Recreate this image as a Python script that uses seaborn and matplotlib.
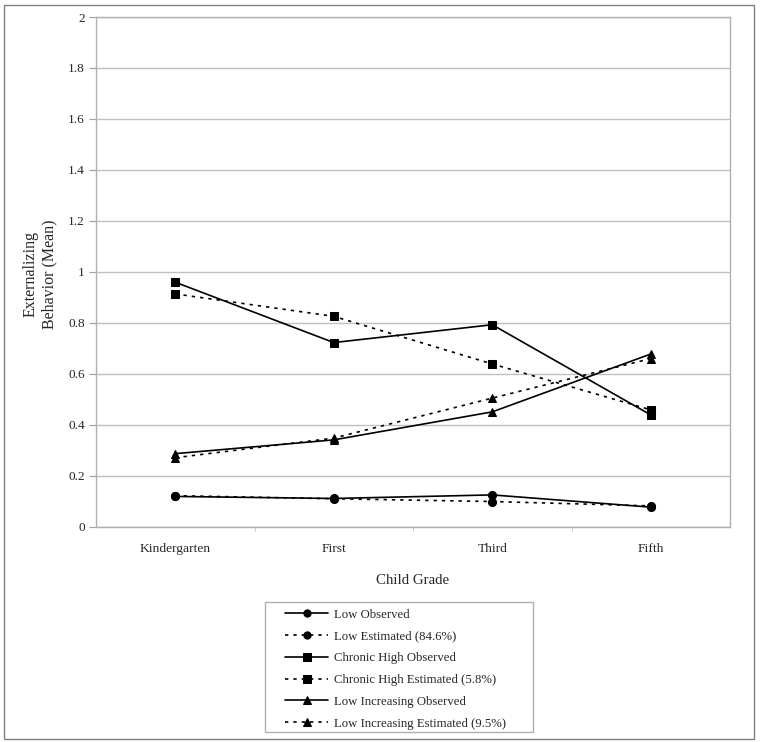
from matplotlib import pyplot as plt
from matplotlib.patches import Rectangle
import seaborn as sns
import pandas as pd

grades = ["Kindergarten", "First", "Third", "Fifth"]

low_obs = [0.118, 0.110, 0.124, 0.076]
low_est = [0.121, 0.109, 0.098, 0.081]
high_obs = [0.959, 0.722, 0.792, 0.438]
high_est = [0.913, 0.825, 0.638, 0.458]
incr_obs = [0.286, 0.340, 0.450, 0.677]
incr_est = [0.270, 0.347, 0.504, 0.659]

series_names = [
    "Low Observed",
    "Low Estimated (84.6%)",
    "Chronic High Observed",
    "Chronic High Estimated (5.8%)",
    "Low Increasing Observed",
    "Low Increasing Estimated (9.5%)",
]

sns.set_style("white")
plt.rcParams['font.family'] = ['Liberation Serif', 'DejaVu Serif']

W, H = 761, 742
fig = plt.figure(figsize=(W / 100, H / 100), dpi=100)
ax = fig.add_axes([96 / W, 1 - 526.5 / H, 634 / W, 509.5 / H])

all_series = [low_obs, low_est, high_obs, high_est, incr_obs, incr_est]
markers = ["o", "o", "s", "s", "^", "^"]
styles = ["-", (0, (2, 3)), "-", (0, (2, 3)), "-", (0, (2, 3))]

for vals, name, mk, ls in zip(all_series, series_names, markers, styles):
    df = pd.DataFrame({"pos": range(len(grades)), "value": vals})
    sns.lineplot(data=df, x="pos", y="value", ax=ax, color="black",
                 marker=mk, markersize=5.8, markeredgecolor="black",
                 linestyle=ls, linewidth=1.2, label=name)

ax.set_xlim(-0.5, 3.5)
ax.set_ylim(0, 2)
ax.set_xticks(range(len(grades)))
ax.set_xticklabels(grades, fontsize=9.7)
ax.set_xticks([0.5, 1.5, 2.5], minor=True)
ax.set_yticks([i * 0.2 for i in range(11)])
ax.set_yticklabels(["0", "0.2", "0.4", "0.6", "0.8", "1", "1.2", "1.4", "1.6", "1.8", "2"], fontsize=9.5)
ax.tick_params(axis="y", which="major", length=5, color="#a0a0a0", direction="out", left=True, pad=3)
ax.tick_params(axis="x", which="major", length=0, pad=12)
ax.tick_params(axis="x", which="minor", length=3, color="#c0c0c0", direction="out", bottom=True)

ax.yaxis.grid(True, color="#c0c0c0", linewidth=1)
ax.set_axisbelow(True)
for side in ["left", "right", "top", "bottom"]:
    ax.spines[side].set_visible(True)
    ax.spines[side].set_color("#b0b0b0")
    ax.spines[side].set_linewidth(1)

ax.set_xlabel("Child Grade", fontsize=10.7)
ax.xaxis.set_label_coords(0.5, -0.093)
ax.set_ylabel("Externalizing\nBehavior (Mean)", fontsize=11.5, linespacing=1.2)
ax.yaxis.set_label_coords(-0.061, 0.495)

handles, labels = ax.get_legend_handles_labels()
ax.get_legend().remove()
leg = fig.legend(handles, labels, loc="upper left",
                 bbox_to_anchor=(285 / W, 1 - 608.5 / H),
                 frameon=False, fontsize=9.2, handlelength=3.4, handletextpad=0.4,
                 labelspacing=0.77, borderpad=0, borderaxespad=0, markerscale=0.9)

# legend box and outer border
fig.patches.append(Rectangle((265 / W, 1 - 732 / H), 268 / W, 130 / H, transform=fig.transFigure,
                             fill=False, edgecolor="#b0b0b0", linewidth=1))
fig.patches.append(Rectangle((4 / W, 3 / H), 750 / W, 734 / H, transform=fig.transFigure,
                             fill=False, edgecolor="#808080", linewidth=1))

fig.savefig("out.png", dpi=100)
